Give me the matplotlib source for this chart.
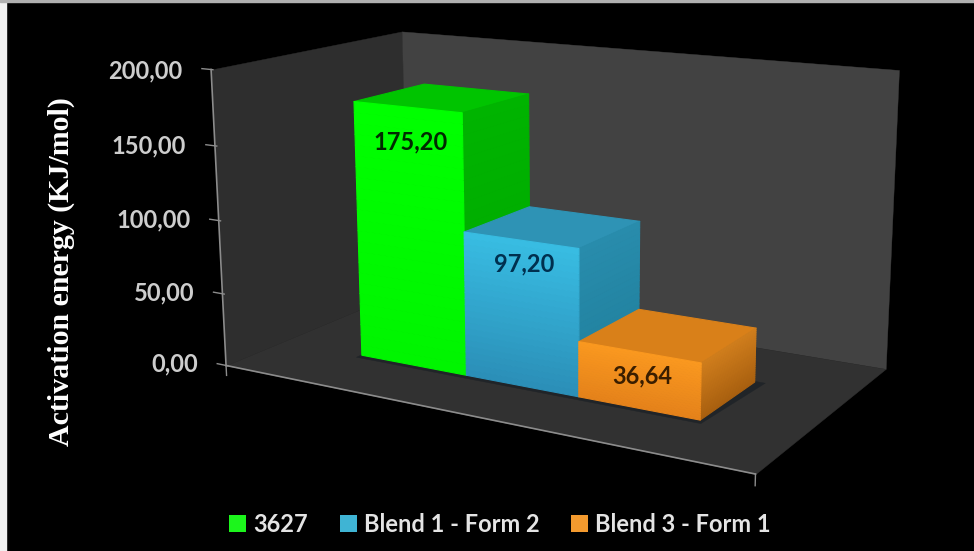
import numpy as np
import matplotlib
matplotlib.use('Agg')
import matplotlib.pyplot as plt
from matplotlib.colors import to_rgb, to_rgba
from matplotlib.patches import Patch, Rectangle
from mpl_toolkits.mplot3d import proj3d
from mpl_toolkits.mplot3d.art3d import Poly3DCollection

names = ['3627', 'Blend 1 - Form 2', 'Blend 3 - Form 1']
values = [175.20, 97.20, 36.64]
value_labels = ['175,20', '97,20', '36,64']
ticks = [0, 50, 100, 150, 200]
tick_labels = ['0,00', '50,00', '100,00', '150,00', '200,00']

# front colour top/bottom, side colour top/bottom, top face
front_hi = ['#00FF00', '#38BCE2', '#FA981F']
front_lo = ['#00F500', '#2B8FB8', '#E5821A']
side_hi = ['#00B400', '#288CAC', '#CF7D1C']
side_lo = ['#00A800', '#1F7F9C', '#A9600F']
top_col = ['#00C400', '#2E93B5', '#D98019']
label_col = ['#002A00', '#00304F', '#3A1E00']
label_pos = [0.87, 0.84, 0.59]

# view found by fitting the corners of the picture
S = 1100
cx, cy = 538.8929, 236.4453
x_start, bar_w, y_front, y_back = 0.1712, 0.2205, 0.2969, 0.6809
n_bands = 24

fig = plt.figure(figsize=(9.74, 5.51), dpi=100, facecolor='black')
ax = fig.add_axes([(cx - S/2)/974, (551 - cy - S/2)/551, S/974, S/551], projection='3d')
ax.set_facecolor('none')
ax.set_xlim(0, 1)
ax.set_ylim(0, 1)
ax.set_zlim(0, 200)
ax.view_init(13.7725, -59.6501, 0.1918)
ax.set_proj_type('persp', focal_length=0.2921)
ax.set_box_aspect((1.8170, 1, 0.9423), zoom=0.6530)
ax.set_axis_off()
ax.computed_zorder = False

def add_wall(verts, color, z):
    ax.add_collection3d(Poly3DCollection([verts], facecolors=color, edgecolors=color, linewidths=0.3, zorder=z))

def label_at(x, y, z, s, **kw):
    x2, y2, _ = proj3d.proj_transform(x, y, z, ax.get_proj())
    ax.text2D(x2, y2, s, transform=ax.transData, **kw)

add_wall([(0, 0, 0), (0, 1, 0), (0, 1, 200), (0, 0, 200)], '#2E2E2E', 1)
add_wall([(0, 1, 0), (1, 1, 0), (1, 1, 200), (0, 1, 200)], '#424242', 1)
add_wall([(0, 0, 0), (1, 0, 0), (1, 1, 0), (0, 1, 0)], '#313131', 2)

# soft shadow under the bars
add_wall([(x_start - 0.004, y_front - 0.022, 0), (x_start + 3*bar_w + 0.006, y_front - 0.022, 0),
          (x_start + 3*bar_w + 0.016, y_back + 0.01, 0), (x_start - 0.004, y_back + 0.01, 0)], '#202428', 3)

# axis lines and ticks
line_c = '#8C8C8C'
ax.plot([0, 0], [0, 0], [0, 200], color=line_c, lw=1.2, zorder=4)
ax.plot([0, 1], [0, 0], [0, 0], color=line_c, lw=1.2, zorder=4)
for t in ticks:
    ax.plot([-0.02, 0.004], [0, 0], [t, t], color=line_c, lw=1.0, zorder=4)
for x in [0, 1]:
    ax.plot([x, x], [0, 0], [0, -7], color=line_c, lw=1.0, zorder=4)

for t, lab in zip(ticks, tick_labels):
    label_at(-0.064, 0, t - 2.7, lab, ha='right', va='center', color='#CDCDCD',
             fontsize=17, family='Lato', fontweight='bold')

# bars, cut into bands so the faces can shade from top to bottom
none = (0, 0, 0, 0)
for i, v in enumerate(values):
    x0 = x_start + i * bar_w
    edges = np.linspace(0, v, n_bands + 1)
    for k in range(n_bands):
        f = k / (n_bands - 1)
        fc = np.array(to_rgb(front_lo[i])) * (1 - f) + np.array(to_rgb(front_hi[i])) * f
        sc = np.array(to_rgb(side_lo[i])) * (1 - f) + np.array(to_rgb(side_hi[i])) * f
        top = to_rgba(top_col[i]) if k == n_bands - 1 else none
        # faces: bottom, top, front, back, left, right
        colors = [none, top, tuple(fc) + (1,), none, none, tuple(sc) + (1,)]
        ax.bar3d(x0, y_front, edges[k], bar_w, y_back - y_front, edges[k + 1] - edges[k],
                 color=colors, shade=False, zorder=10 + i + k * 0.01, linewidth=0.8, edgecolor=colors)
    label_at(x0 + bar_w / 2 + 0.006, y_front, v * label_pos[i], value_labels[i], ha='center', va='center',
             color=label_col[i], fontsize=17, family='Lato', fontweight='bold', zorder=20)

fig.text(61 / 974, 1 - 272 / 551, 'Activation energy (KJ/mol)', rotation=90, ha='center', va='center',
         color='white', fontsize=21.5, family='Liberation Serif', fontweight='bold')

handles = [Patch(facecolor=c) for c in ['#1CF51C', '#3FB4D4', '#F39A2E']]
fig.legend(handles, names, loc='center', bbox_to_anchor=(500 / 974, 1 - 524 / 551), ncols=3, frameon=False,
           prop={'family': 'Lato', 'weight': 'bold', 'size': 17}, labelcolor='#E4E4E4',
           handlelength=0.72, handleheight=0.72, handletextpad=0.3, columnspacing=1.35)

# edges of the screenshot
fig.add_artist(Rectangle((0, 0), 6 / 974, 1, transform=fig.transFigure, color='#F0F0F0'))
fig.add_artist(Rectangle((0, 1 - 1.5 / 551), 1, 1.5 / 551, transform=fig.transFigure, color='#B0B0B0'))

fig.savefig('out.png', dpi=100, facecolor='black')
